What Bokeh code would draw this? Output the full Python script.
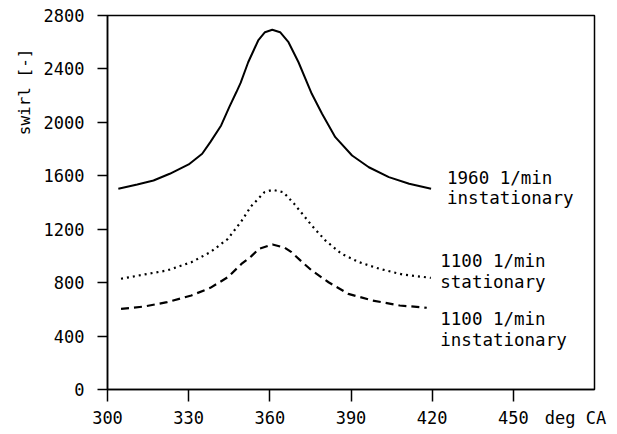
import math
from bokeh.plotting import figure
from bokeh.models import FixedTicker, Range1d, Title, LinearAxis, Label
from bokeh.embed import file_html
from bokeh.resources import INLINE

# crank angle [deg CA] / swirl [-]
x_1960_inst = [304, 311, 317, 323, 330, 335, 338, 342, 345, 347.6, 349.2, 352, 355.7, 358.2, 360.9,
               363.8, 366.9, 370.6, 375.5, 379.3, 384.2, 390.4, 396.6, 404, 411.5, 419.6]
y_1960_inst = [1503, 1535, 1565, 1615, 1685, 1765, 1852, 1977, 2114, 2225, 2295, 2450, 2613, 2675, 2693,
               2675, 2600, 2450, 2214, 2064, 1889, 1752, 1664, 1590, 1540, 1503]

x_1100_stat = [305, 313.5, 322, 331, 338, 344.5, 349.5, 353, 358, 361, 365, 369, 375.5, 380.5,
               386.5, 393, 400.5, 409, 419.5]
y_1100_stat = [829, 861, 891, 953, 1028, 1128, 1260, 1370, 1477, 1495, 1477, 1390, 1228, 1116,
               1016, 953, 904, 861, 836]

x_1100_inst = [305, 313.5, 322, 331, 338, 344.5, 349.5, 353, 356, 361, 365.5, 368, 372, 375.5,
               381.7, 389, 398, 408, 418]
y_1100_inst = [604, 621, 654, 704, 761, 841, 940, 995, 1053, 1086, 1061, 1028, 953, 891,
               803, 716, 666, 629, 612]

x_ticks = [300, 330, 360, 390, 420, 450]
y_ticks = [0, 400, 800, 1200, 1600, 2000, 2400, 2800]
x_unit_pos = 473
x_unit_text = "deg CA"
y_title = "swirl [-]"

FONT = "DejaVu Sans Mono"

p = figure(width=609, height=432, output_backend="svg", toolbar_location=None,
           x_range=Range1d(300, 480), y_range=Range1d(0, 2800),
           min_border_left=107, min_border_right=15, min_border_top=15, min_border_bottom=43)
p.background_fill_color = "white"
p.border_fill_color = "white"
p.outline_line_color = "black"
p.outline_line_width = 1.5
p.grid.visible = False

# x axis: tick marks only (closest to frame)
xa = p.xaxis[0]
xa.ticker = FixedTicker(ticks=x_ticks)
xa.axis_line_color = "black"
xa.axis_line_width = 1.5
xa.major_tick_line_color = "black"
xa.major_tick_line_width = 1.5
xa.minor_tick_line_color = None
xa.major_tick_in = 0
xa.major_tick_out = 12
xa.major_label_standoff = 0
xa.major_label_text_font_size = "0px"
xa.major_label_text_color = None

# x axis: labels only, incl. unit text
xl = LinearAxis(ticker=FixedTicker(ticks=x_ticks + [x_unit_pos]),
                major_label_overrides={x_unit_pos: x_unit_text},
                axis_line_color=None, major_tick_line_color=None, minor_tick_line_color=None,
                major_tick_in=0, major_tick_out=0, major_label_standoff=6,
                major_label_text_font=FONT, major_label_text_font_size="17px",
                major_label_text_color="black")
p.add_layout(xl, "below")

ya = p.yaxis[0]
ya.ticker = FixedTicker(ticks=y_ticks)
ya.axis_line_color = "black"
ya.axis_line_width = 1.5
ya.major_tick_line_color = "black"
ya.major_tick_line_width = 1.5
ya.minor_tick_line_color = None
ya.major_tick_in = 0
ya.major_tick_out = 10
ya.major_label_standoff = 13
ya.major_label_text_font = FONT
ya.major_label_text_font_size = "17px"
ya.major_label_text_color = "black"

p.line(x_1960_inst, y_1960_inst, line_color="black", line_width=2)
p.line(x_1100_stat, y_1100_stat, line_color="black", line_width=2.2, line_dash="2 4")
p.line(x_1100_inst, y_1100_inst, line_color="black", line_width=2.2, line_dash="8 5")

labels = [
    (425.5, 1662, "1960 1/min"),
    (425.5, 1505, "instationary"),
    (423.0, 1040, "1100 1/min"),
    (423.0, 883, "stationary"),
    (423.0, 606, "1100 1/min"),
    (423.0, 449, "instationary"),
]
for lx, ly, t in labels:
    p.add_layout(Label(x=lx, y=ly, text=t, text_font=FONT, text_font_size="17.5px",
                       text_color="black", text_baseline="top", text_align="left"))

p.add_layout(Title(text=y_title, align="right", text_font=FONT, text_font_size="16px",
                   text_font_style="normal", text_color="black", offset=33, standoff=14), "left")

open("out.html", "w").write(file_html(p, INLINE))
